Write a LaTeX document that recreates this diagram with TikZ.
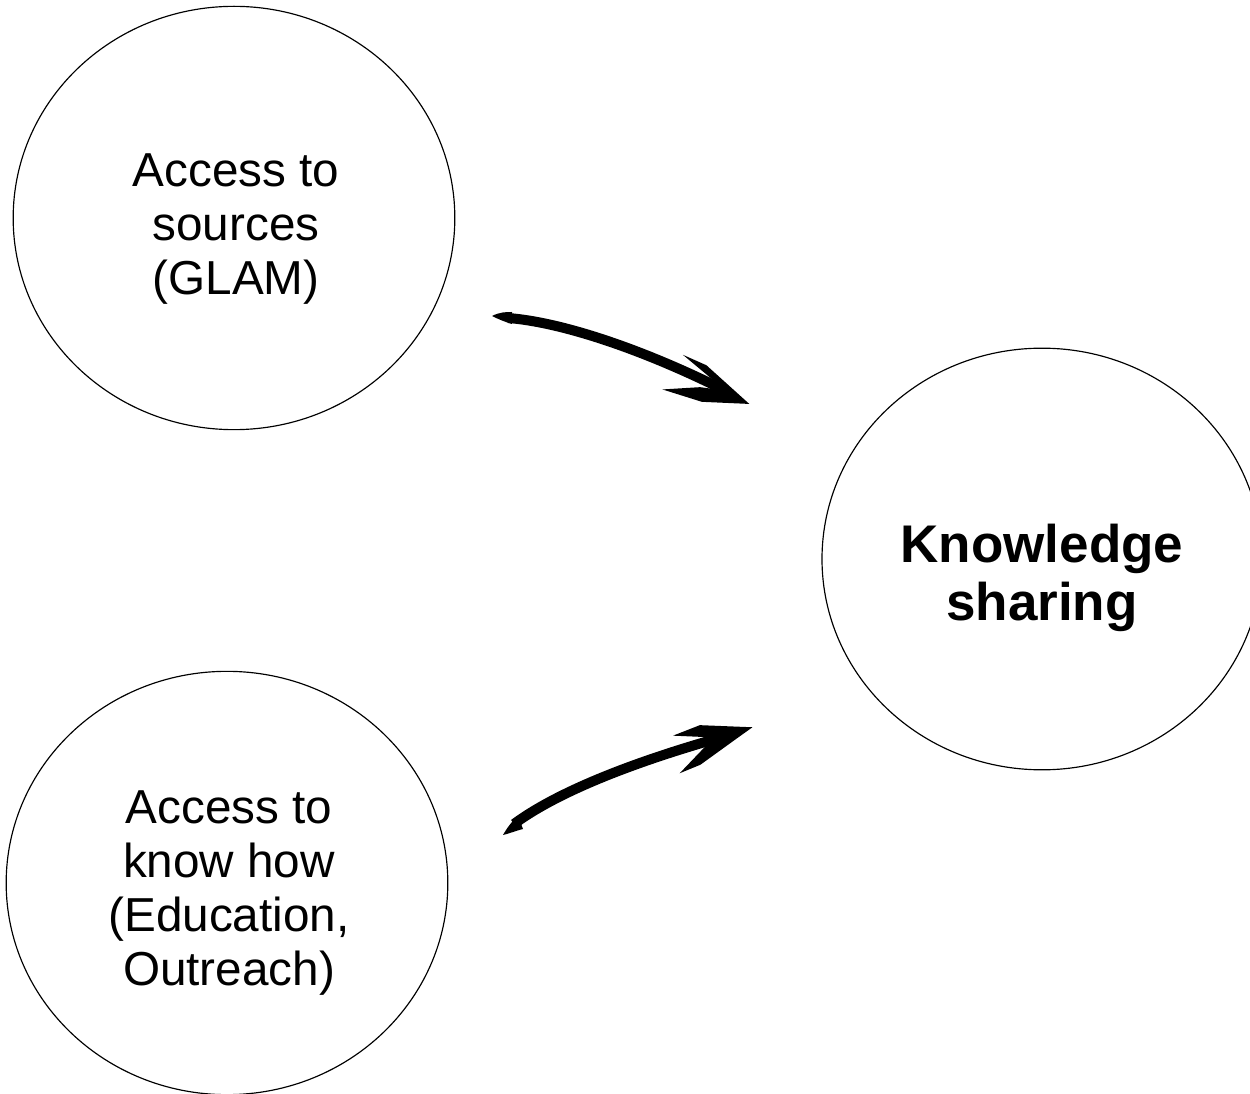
\documentclass[tikz,border=0pt]{standalone}
\usepackage{fontspec}
\setmainfont{Liberation Sans}
\usetikzlibrary{shapes.geometric}
\begin{document}
\begin{tikzpicture}[x=0.6pt,y=-0.6pt,
  circ/.style={draw=black,line width=0.7pt,ellipse,minimum width=265pt,minimum height=254pt,inner sep=0pt},
  txt/.style={align=center,font=\fontsize{28.6}{32.4}\selectfont,inner sep=0pt},
  btxt/.style={align=center,font=\fontsize{31.8}{35.2}\selectfont\bfseries,inner sep=0pt},
  brush/.style={line width=6pt,line cap=butt},
  headfill/.style={fill=black,draw=black,line width=1pt,line join=miter}]
\useasboundingbox (0,0) rectangle (1250,1094);
\clip (0,0) rectangle (1250,1094);
\node[circ] (src) at (234,218) {};
\node[circ] (know) at (227,883) {};
\node[circ,minimum width=264pt,minimum height=253pt] (share) at (1042,559) {};
\node[txt] (srct) at (236,229) {Access to\\sources\\(GLAM)};
\node[txt] (knowt) at (229,893) {Access to\\know how\\(Education,\\Outreach)};
\node[btxt] (sharet) at (1042,578) {Knowledge\\sharing};
% top arrow
\coordinate (a1s) at (508,318);
\coordinate (a1e) at (724,390);
\coordinate (a1t) at (747,403);
\fill (492,316) .. controls (500,312) and (506,312) .. (512,312) -- (512,324) .. controls (505,322) and (498,319) .. cycle;
\draw[brush] (a1s) .. controls (560,322) and (640,348) .. (a1e);
\filldraw[headfill] (688,358) -- (706,366) -- (a1t) -- (702,401) -- (667,390) -- (700,388) -- (722,391) -- (712,378) -- cycle;
% bottom arrow
\coordinate (a2s) at (514,824);
\coordinate (a2e) at (726,736);
\coordinate (a2t) at (750,728);
\fill (503,835) .. controls (507,828) and (512,821) .. (518,816) -- (523,829) .. controls (515,831) and (508,834) .. cycle;
\draw[brush] (a2s) .. controls (560,790) and (640,760) .. (a2e);
\filldraw[headfill] (677,735) -- (700,726) -- (a2t) -- (736,738) -- (700,764) -- (683,771) -- (705,748) -- (720,736) -- (700,736) -- cycle;
\end{tikzpicture}
\end{document}
